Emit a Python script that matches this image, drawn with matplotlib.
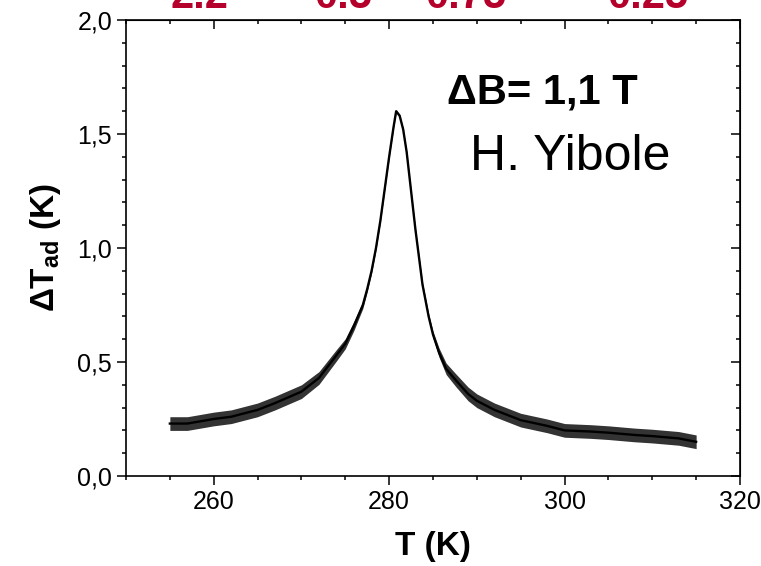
import matplotlib
matplotlib.use("Agg")
import matplotlib.pyplot as plt
from matplotlib.ticker import MultipleLocator, FuncFormatter
import numpy as np

plt.rcParams['font.family'] = ['Liberation Sans', 'DejaVu Sans']
plt.rcParams['mathtext.fontset'] = 'custom'
plt.rcParams['mathtext.rm'] = 'Liberation Sans'
plt.rcParams['mathtext.bf'] = 'Liberation Sans:bold'

# temperature (K) and adiabatic temperature change (K)
temp = [255, 257, 260, 262, 265, 267, 270, 272, 274, 275, 276, 277, 277.5,
        278, 278.5, 279, 279.5, 280, 280.5, 280.8, 281.2, 281.6, 282, 282.5,
        283, 283.8, 284.5, 285, 285.7, 286.5, 287.6, 289, 290, 292, 295,
        298, 300, 303, 305, 308, 310, 313, 315]
dT = [0.23, 0.23, 0.25, 0.26, 0.29, 0.32, 0.37, 0.43, 0.53, 0.58, 0.66,
      0.75, 0.82, 0.90, 1.00, 1.12, 1.26, 1.40, 1.53, 1.60, 1.58, 1.52,
      1.42, 1.25, 1.08, 0.84, 0.70, 0.62, 0.54, 0.47, 0.42, 0.36, 0.33,
      0.29, 0.245, 0.22, 0.20, 0.195, 0.19, 0.18, 0.175, 0.165, 0.15]
# half-width of the noise band around the curve
noise = [0.03, 0.03, 0.03, 0.03, 0.03, 0.03, 0.03, 0.028, 0.025,
         0.022, 0.02, 0.015, 0.012, 0.01, 0.008, 0.006, 0.006, 0.006, 0.006, 0.006,
         0.006, 0.006, 0.006, 0.006, 0.008, 0.01, 0.012, 0.015, 0.02, 0.025, 0.028,
         0.03, 0.03, 0.03, 0.03, 0.03, 0.03, 0.03, 0.03, 0.03, 0.03,
         0.03, 0.03]

red_labels = ['2.2', '0.5', '0.75', '0.25']
red_x = [170, 314, 425, 607]  # left edge, pixels

temp = np.array(temp)
dT = np.array(dT)
noise = np.array(noise)

fig = plt.figure(figsize=(7.61, 5.66), dpi=100)
ax = fig.add_axes([126/761, 1 - 476/566, (740-126)/761, (476-20)/566])

ax.fill_between(temp, dT - noise, dT + noise, color='black', lw=0, alpha=0.8)
ax.plot(temp, dT, color='black', lw=1.7)

ax.set_xlim(250, 320)
ax.set_ylim(0, 2.0)
ax.xaxis.set_major_locator(MultipleLocator(20))
ax.xaxis.set_minor_locator(MultipleLocator(5))
ax.yaxis.set_major_locator(MultipleLocator(0.5))
ax.yaxis.set_minor_locator(MultipleLocator(0.1))
ax.yaxis.set_major_formatter(FuncFormatter(lambda v, p: '{:.1f}'.format(v).replace('.', ',')))

for s in ax.spines.values():
    s.set_linewidth(1.2)
ax.tick_params(which='both', direction='out', width=1.1, labelsize=18, pad=3.5)
ax.tick_params(which='major', length=6.5)
ax.tick_params(which='minor', length=3)
# secondary axes: ticks inside, no labels
ax2x = ax.secondary_xaxis('top')
ax2x.xaxis.set_major_locator(MultipleLocator(20))
ax2x.xaxis.set_minor_locator(MultipleLocator(5))
ax2x.tick_params(which='both', direction='in', labeltop=False, width=1.1)
ax2x.tick_params(which='major', length=6.5)
ax2x.tick_params(which='minor', length=3)
ax2y = ax.secondary_yaxis('right')
ax2y.yaxis.set_major_locator(MultipleLocator(0.5))
ax2y.yaxis.set_minor_locator(MultipleLocator(0.1))
ax2y.tick_params(which='both', direction='in', labelright=False, width=1.1)
ax2y.tick_params(which='major', length=6.5)
ax2y.tick_params(which='minor', length=3)

ax.set_xlabel('T (K)', fontsize=24, fontweight='bold', labelpad=12)
ax.set_ylabel(r'$\mathbf{\Delta T_{ad}}$ (K)', fontsize=24, fontweight='bold', labelpad=10)

fig.text(447/761, 1 - 103/566, 'ΔB= 1,1 T', fontsize=30, fontweight='bold',
         ha='left', va='baseline')
fig.text(470/761, 1 - 170/566, 'H. Yibole', fontsize=36, ha='left', va='baseline')

# red labels partly outside the top edge, as in the source image
for lab, xp in zip(red_labels, red_x):
    fig.text(xp/761, 1 - 8/566, lab, fontsize=30, fontweight='bold',
             color='#b5002b', ha='left', va='baseline')

fig.savefig('out.png', dpi=100)
